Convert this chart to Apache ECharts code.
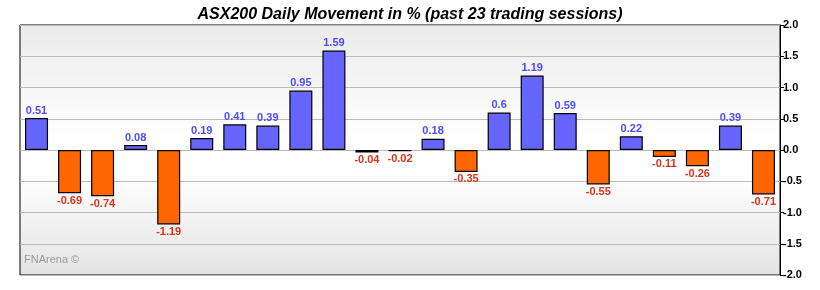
<!DOCTYPE html>
<html><head><meta charset="utf-8">
<script src="https://cdn.jsdelivr.net/npm/echarts@6/dist/echarts.min.js"></script>
<style>html,body{margin:0;padding:0;background:#fff}#c{width:820px;height:290px}</style>
</head><body><div id="c"></div>
<script>
var categories = ['1','2','3','4','5','6','7','8','9','10','11','12','13','14','15','16','17','18','19','20','21','22','23'];
var values = [0.51,-0.69,-0.74,0.08,-1.19,0.19,0.41,0.39,0.95,1.59,-0.04,-0.02,0.18,-0.35,0.6,1.19,0.59,-0.55,0.22,-0.11,-0.26,0.39,-0.71];
var yTicks = [-2.0,-1.5,-1.0,-0.5,0.0,0.5,1.0,1.5,2.0];
var titleText = 'ASX200 Daily Movement in % (past 23 trading sessions)';
var watermark = 'FNArena \u00a9';

var posColor = '#6666ff', negColor = '#ff6600';
var posLabel = '#4d4dff', negLabel = '#dd3318';

var chart = echarts.init(document.getElementById('c'), null, {renderer:'canvas'});
chart.setOption({
  animation:false,
  backgroundColor:'#ffffff',
  title:{text:titleText,left:'center',top:2,textStyle:{fontFamily:'Liberation Sans, Arial',fontSize:16,fontWeight:'bold',fontStyle:'italic',color:'#000'}},
  grid:{left:20,right:40,top:25,height:250,show:true,borderColor:'#000',borderWidth:1,
    backgroundColor:{type:'linear',x:0,y:0,x2:0,y2:1,colorStops:[
      {offset:0,color:'#ebebeb'},{offset:0.45,color:'#ffffff'},{offset:0.6,color:'#ffffff'},{offset:1,color:'#e3e3e3'}]}},
  xAxis:{type:'category',data:categories,axisLine:{show:false},axisTick:{show:false},axisLabel:{show:false},splitLine:{show:false}},
  yAxis:{type:'value',position:'right',min:yTicks[0],max:yTicks[yTicks.length-1],interval:0.5,
    axisLine:{show:true,lineStyle:{color:'#000',width:1}},
    axisTick:{show:true,length:4,lineStyle:{color:'#000'}},
    axisLabel:{margin:3,color:'#000',fontFamily:'Liberation Sans, Arial',fontSize:11,fontWeight:'bold',formatter:function(v){return v.toFixed(1);}},
    splitLine:{show:true,lineStyle:{color:'#bbbbbb',width:1}}},
  graphic:[{type:'text',left:24,top:254,style:{text:watermark,fill:'#999999',font:'11px "Liberation Sans", Arial'}}],
  series:[{type:'bar',barWidth:23,
    data:values.map(function(v){return {value:v,
      itemStyle:{color:v>=0?posColor:negColor,borderColor:'#000',borderWidth:1.2},
      label:{show:true,position:v>=0?'top':'bottom',distance:2,color:v>=0?posLabel:negLabel,
        fontFamily:'Liberation Sans, Arial',fontSize:11,fontWeight:'bold',
        formatter:function(){return String(v);}}};})
  }]
});
</script></body></html>
